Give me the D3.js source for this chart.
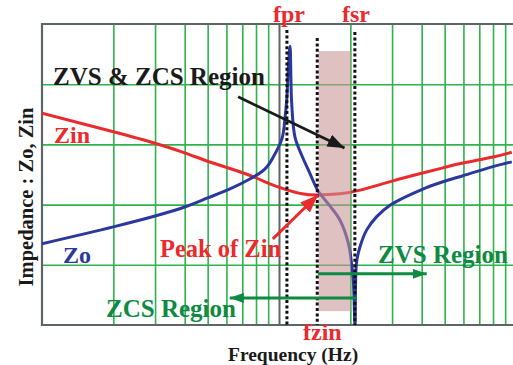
<!DOCTYPE html>
<html>
<head>
<meta charset="utf-8">
<script src="https://cdn.jsdelivr.net/npm/d3@7"></script>
<style>
  html, body { margin: 0; padding: 0; background: #fff; }
  svg { display: block; }
  text { font-family: "Liberation Serif", "Times New Roman", serif; font-weight: bold; }
</style>
</head>
<body>
<svg id="chart" width="513" height="365"></svg>
<script>
// Impedance seen from the tank output (Zo) and the input (Zin) vs frequency, log frequency axis.
const zoFreq = [1.0, 2.0, 3.0, 4.0, 5.0, 6.21, 7.33, 8.48, 8.9, 9.43, 10.3, 10.6, 10.78, 10.94, 11.13,
                11.31, 11.68, 12.47, 13.5, 14.6, 16.4, 18.09, 19.61, 20.27, 20.58, 20.93,
                21.23, 21.97, 23.45, 25.84, 29.4, 40.0, 49.2, 59.7, 79.9, 96.0];
const zoValue = [1.35, 1.63, 1.81, 1.96, 2.11, 2.26, 2.40, 2.55, 2.63, 2.78, 3.10, 3.44, 3.74, 4.24, 4.63,
                 3.69, 3.12, 2.82, 2.52, 2.23, 1.98, 1.74, 1.36, 1.00, 0.75, 0.0,
                 1.03, 1.30, 1.58, 1.80, 1.99, 2.25, 2.38, 2.48, 2.63, 2.71];

const zinFreq = [1.0, 2.0, 3.0, 4.0, 5.0, 6.21, 7.77, 9.15, 10.8, 12.5, 14.6, 18.1, 22.0, 30.0, 40.0, 49.2, 59.7, 80.0, 96.0];
const zinValue = [3.52, 3.21, 3.02, 2.86, 2.72, 2.60, 2.465, 2.345, 2.245, 2.18, 2.16, 2.18, 2.24, 2.39, 2.52, 2.61, 2.69, 2.79, 2.87];

// Characteristic frequencies
const markerNames = ["fpr", "fzin", "fsr"];
const markerFreq = [10.8, 14.5, 20.9];

// Grid: log minor lines, decade line, linear impedance divisions
const minorFreqs = [2, 3, 4, 5, 6, 7, 8, 9, 20, 30, 40, 50, 60, 70, 80, 90];
const decadeFreqs = [10];
const impedanceTicks = [1, 2, 3, 4];

// Soft-switching band (frequency span and impedance span)
const bandFreq = [14.7, 20.1];
const bandValue = [0.23, 4.55];

const W = 513, H = 365;
const plotL = 42, plotT = 24, plotB = 325, plotR = 513;

const svg = d3.select("#chart");
svg.append("rect").attr("width", W).attr("height", H).attr("fill", "#fff");

const x = d3.scaleLog().domain([1, 100]).range([plotL, 516]);
const y = d3.scaleLinear().domain([0, 5]).range([plotB, plotT]);

const green = "#2fb34b", gray = "#5e6566";
const red = "#ec2a2e", blue = "#2b389e", dkGreen = "#0e8a43";

const defs = svg.append("defs");
defs.append("clipPath").attr("id", "plot")
  .append("rect").attr("x", plotL).attr("y", plotT).attr("width", plotR - plotL).attr("height", plotB - plotT);

// vertical grid
svg.append("g").attr("transform", `translate(0,${plotB})`)
  .call(d3.axisBottom(x).tickValues(minorFreqs).tickSize(-(plotB - plotT)).tickFormat(""))
  .call(g => g.select(".domain").remove())
  .call(g => g.selectAll("line").attr("stroke", green).attr("stroke-width", 1.6));

// horizontal grid
svg.append("g").attr("transform", `translate(${plotL},0)`)
  .call(d3.axisLeft(y).tickValues(impedanceTicks).tickSize(-(plotR - plotL)).tickFormat(""))
  .call(g => g.select(".domain").remove())
  .call(g => g.selectAll("line").attr("stroke", green).attr("stroke-width", 1.6));

// decade line
svg.append("g").attr("transform", `translate(0,${plotB})`)
  .call(d3.axisBottom(x).tickValues(decadeFreqs).tickSize(-(plotB - plotT)).tickFormat(""))
  .call(g => g.select(".domain").remove())
  .call(g => g.selectAll("line").attr("stroke", gray).attr("stroke-width", 2));

// frame
svg.append("path")
  .attr("d", `M${plotR},${plotT}H${plotL}V${plotB}H${plotR}`)
  .attr("fill", "none").attr("stroke", gray).attr("stroke-width", 2.2);

const zinLine = d3.line().x(d => x(d[0])).y(d => y(d[1])).curve(d3.curveNatural);
const zoLine = d3.line().x(d => x(d[0])).y(d => y(d[1])).curve(d3.curveCatmullRom.alpha(0.5));
const curves = svg.append("g").attr("clip-path", "url(#plot)");
curves.append("path").datum(d3.zip(zinFreq, zinValue))
  .attr("d", zinLine).attr("fill", "none").attr("stroke", red).attr("stroke-width", 3);
curves.append("path").datum(d3.zip(zoFreq, zoValue))
  .attr("d", zoLine).attr("fill", "none").attr("stroke", blue).attr("stroke-width", 3);

// shaded band over the curves
svg.append("rect")
  .attr("x", x(bandFreq[0])).attr("width", x(bandFreq[1]) - x(bandFreq[0]))
  .attr("y", y(bandValue[1])).attr("height", y(bandValue[0]) - y(bandValue[1]))
  .attr("fill", "rgb(200,148,148)").attr("fill-opacity", 0.58);

// dashed frequency markers
const dashTop = { fpr: 30, fzin: 38, fsr: 32 };
markerNames.forEach((n, i) => {
  svg.append("line")
    .attr("x1", x(markerFreq[i])).attr("x2", x(markerFreq[i]))
    .attr("y1", dashTop[n]).attr("y2", plotB)
    .attr("stroke", "#111").attr("stroke-width", 3).attr("stroke-dasharray", "3,2.4");
});

// arrowheads
function head(id, color, len, wid) {
  defs.append("marker").attr("id", id)
    .attr("viewBox", `0 0 ${len} ${wid}`).attr("refX", len).attr("refY", wid / 2)
    .attr("markerUnits", "userSpaceOnUse").attr("markerWidth", len).attr("markerHeight", wid)
    .attr("orient", "auto")
    .append("path").attr("d", `M0,0L${len},${wid / 2}L0,${wid}Z`).attr("fill", color);
}
head("hBlack", "#1a1a1a", 17, 13);
head("hRed", red, 18, 14);
head("hGreen", dkGreen, 14, 10);

function arrow(f1, v1, f2, v2, color, marker, w) {
  svg.append("line")
    .attr("x1", x(f1)).attr("y1", y(v1)).attr("x2", x(f2)).attr("y2", y(v2))
    .attr("stroke", color).attr("stroke-width", w).attr("marker-end", `url(#${marker})`);
}
arrow(6.72, 3.79, 18.9, 2.94, "#1a1a1a", "hBlack", 2.8);
arrow(9.42, 1.43, 14.6, 2.16, red, "hRed", 3);
arrow(14.6, 0.85, 42.0, 0.85, dkGreen, "hGreen", 3);
arrow(21.3, 0.45, 6.2, 0.45, dkGreen, "hGreen", 3);

// labels
function label(txt, px, py, color, size) {
  return svg.append("text").attr("x", px).attr("y", py).attr("fill", color)
    .attr("font-size", size).text(txt);
}
label("fpr", 273, 22, red, 24);
label("fsr", 342, 22, red, 24);
label("fzin", 303, 340, red, 24);
label("ZVS & ZCS Region", 53, 85, "#1a1a1a", 25);
label("Zin", 54, 143, red, 24);
label("Zo", 63, 263, blue, 24);
label("Peak of Zin", 160, 257, red, 24.5);
label("ZCS Region", 106, 317, dkGreen, 25);
label("ZVS Region", 378, 263, dkGreen, 25);
label("Frequency (Hz)", 228, 361, "#1a1a1a", 19.5);
svg.append("text")
  .attr("transform", "translate(33,197) rotate(-90)")
  .attr("text-anchor", "middle").attr("fill", "#1a1a1a").attr("font-size", 20.5)
  .text("Impedance : Zo, Zin");
</script>
</body>
</html>
